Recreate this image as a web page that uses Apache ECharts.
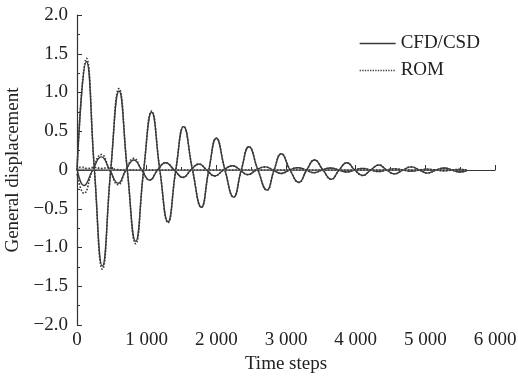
<!DOCTYPE html>
<html>
<head>
<meta charset="utf-8">
<script src="https://cdn.jsdelivr.net/npm/echarts@6/dist/echarts.min.js"></script>
<style>html,body{margin:0;padding:0;background:#fff;}#chart{width:518px;height:376px;}</style>
</head>
<body>
<div id="chart"></div>
<script>
// ---- data ----
const xTicks = [0, 1000, 2000, 3000, 4000, 5000, 6000];
const yTicks = [-2.0, -1.5, -1.0, -0.5, 0, 0.5, 1.0, 1.5, 2.0];

// Mode 1 (large oscillation)
const mode1Steps = [0,135,250,364,484,603,722,842,957,1072,1189,1306,1418,1531,1658,1785,1892,2000,2124,2248,2358,2468,2597,2726,2829,2932,3058,3185,3297,3410,3530,3650,3762,3874,3987,4100,4216,4333,4445,4558,4678,4798,4915,5032,5154,5276,5383,5491,5590];
const mode1Cfd = [0,1.40,0,-1.24, 0,1.02,0,-0.92, 0,0.745,0,-0.667, 0,0.56,0,-0.48, 0,0.41,0,-0.35, 0,0.30,0,-0.26, 0,0.21,0,-0.16, 0,0.13,0,-0.12, 0,0.094,0,-0.07, 0,0.065,0,-0.05, 0,0.04,0,-0.04, 0,0.025,0,-0.025, -0.01];
const mode1Rom = [0,1.44,0,-1.28, 0,1.05,0,-0.95, 0,0.76,0,-0.68, 0,0.56,0,-0.48, 0,0.41,0,-0.35, 0,0.30,0,-0.26, 0,0.21,0,-0.16, 0,0.13,0,-0.12, 0,0.094,0,-0.07, 0,0.065,0,-0.05, 0,0.04,0,-0.04, 0,0.025,0,-0.025, -0.01];

// Mode 2 (small antiphase oscillation)
const mode2Steps = [0,100,225,350,470,590,702,815,929,1043,1157,1272,1396,1520,1635,1750,1862,1975,2104,2233,2341,2450,2575,2700,2815,2930,3050,3170,3285,3400,3520,3640,3755,3870,3985,4100,4215,4330,4445,4560,4680,4800,4915,5030,5150,5270,5385,5500,5590];
const mode2Cfd = [0.02,-0.20,0,0.17, 0,-0.17,0,0.13, 0,-0.13,0,0.094, 0,-0.095,0,0.077, 0,-0.077,0,0.055, 0,-0.06,0,0.04, 0,-0.045,0,0.03, 0,-0.035,0,0.025, 0,-0.025,0,0.02, 0,-0.02,0,0.015, 0,-0.015,0,0.01, 0,-0.01,0,0.008, 0];
const mode2Rom = [-0.05,-0.30,0,0.20, 0,-0.19,0,0.15, 0,-0.13,0,0.094, 0,-0.095,0,0.077, 0,-0.077,0,0.055, 0,-0.06,0,0.04, 0,-0.045,0,0.03, 0,-0.035,0,0.025, 0,-0.025,0,0.02, 0,-0.02,0,0.015, 0,-0.015,0,0.01, 0,-0.01,0,0.008, 0];

// Mode 3 (near-zero)
const mode3CfdSteps = [0,1000,2000,3000,4000,5000,5590];
const mode3Cfd = [0.01,0,0,0,0,0,0];
const mode3RomSteps = [0,60,150,250,350,450,550,700,900,2000,5590];
const mode3Rom = [0,0.04,0.02,0.035,0.02,0.03,0.01,0.0,0,0,0];

const legendNames = ['CFD/CSD', 'ROM'];

// ---- build ----
const pairs = (xs, ys) => xs.map((x, i) => [x, ys[i]]);
const FONT = '"Liberation Serif", "DejaVu Serif", serif';
const INK = '#3a3a3a';

function lineSeries(name, data, dotted, color) {
  return {
    name: name, type: 'line', data: data, smooth: 0.5,
    symbol: 'none', showSymbol: false,
    lineStyle: { color: color || INK, width: dotted ? 1.6 : 1.4, type: dotted ? 'dotted' : 'solid' },
    itemStyle: { color: color || INK },
    z: dotted ? 3 : 2
  };
}

function fmtX(v) {
  if (v === 0) return '0';
  const s = String(v);
  return s.length > 3 ? s.slice(0, s.length - 3) + ' ' + s.slice(-3) : s;
}
function fmtY(v) {
  if (Math.abs(v) < 1e-9) return '0';
  return (v < 0 ? '\u2212' : '') + Math.abs(v).toFixed(1);
}

const chart = echarts.init(document.getElementById('chart'), null, { renderer: 'canvas' });
chart.setOption({
  animation: false,
  backgroundColor: '#fff',
  grid: { left: 77, right: 23, top: 15, bottom: 51, containLabel: false, outerBoundsMode: 'none' },
  legend: {
    data: legendNames, orient: 'vertical', left: 354, top: 29,
    itemWidth: 36, itemHeight: 14, itemGap: 8,
    itemStyle: { opacity: 0, borderWidth: 0 },
    lineStyle: { width: 1.3 },
    textStyle: { fontFamily: FONT, fontSize: 19, color: '#222' }
  },
  xAxis: {
    type: 'value', min: xTicks[0], max: xTicks[xTicks.length - 1], interval: 1000,
    name: 'Time steps', nameLocation: 'middle', nameGap: 30,
    nameTextStyle: { fontFamily: FONT, fontSize: 19, color: '#222' },
    axisLine: { lineStyle: { color: '#333', width: 1.2 } },
    axisTick: { inside: true, length: 5, lineStyle: { color: '#333' } },
    minorTick: { show: true, splitNumber: 2, length: 3, lineStyle: { color: '#333' } },
    splitLine: { show: false },
    axisLabel: { formatter: fmtX, fontFamily: FONT, fontSize: 19, color: '#222', margin: 6 }
  },
  yAxis: {
    type: 'value', min: yTicks[0], max: yTicks[yTicks.length - 1], interval: 0.5,
    name: 'General displacement', nameLocation: 'middle', nameGap: 39,
    nameTextStyle: { fontFamily: FONT, fontSize: 19, color: '#222' },
    axisLine: { show: true, lineStyle: { color: '#333', width: 1.2 } },
    axisTick: { show: true, inside: true, length: 5, lineStyle: { color: '#333' } },
    minorTick: { show: true, splitNumber: 2, length: 3, lineStyle: { color: '#333' } },
    splitLine: { show: false },
    axisLabel: { formatter: fmtY, fontFamily: FONT, fontSize: 19, color: '#222', margin: 9 }
  },
  series: [
    lineSeries('CFD/CSD', pairs(mode1Steps, mode1Cfd), false),
    lineSeries('CFD/CSD', pairs(mode2Steps, mode2Cfd), false),
    lineSeries('CFD/CSD', pairs(mode3CfdSteps, mode3Cfd), false, '#8a8a8a'),
    lineSeries('ROM', pairs(mode1Steps, mode1Rom), true),
    lineSeries('ROM', pairs(mode2Steps, mode2Rom), true),
    lineSeries('ROM', pairs(mode3RomSteps, mode3Rom), true)
  ]
});
</script>
</body>
</html>
